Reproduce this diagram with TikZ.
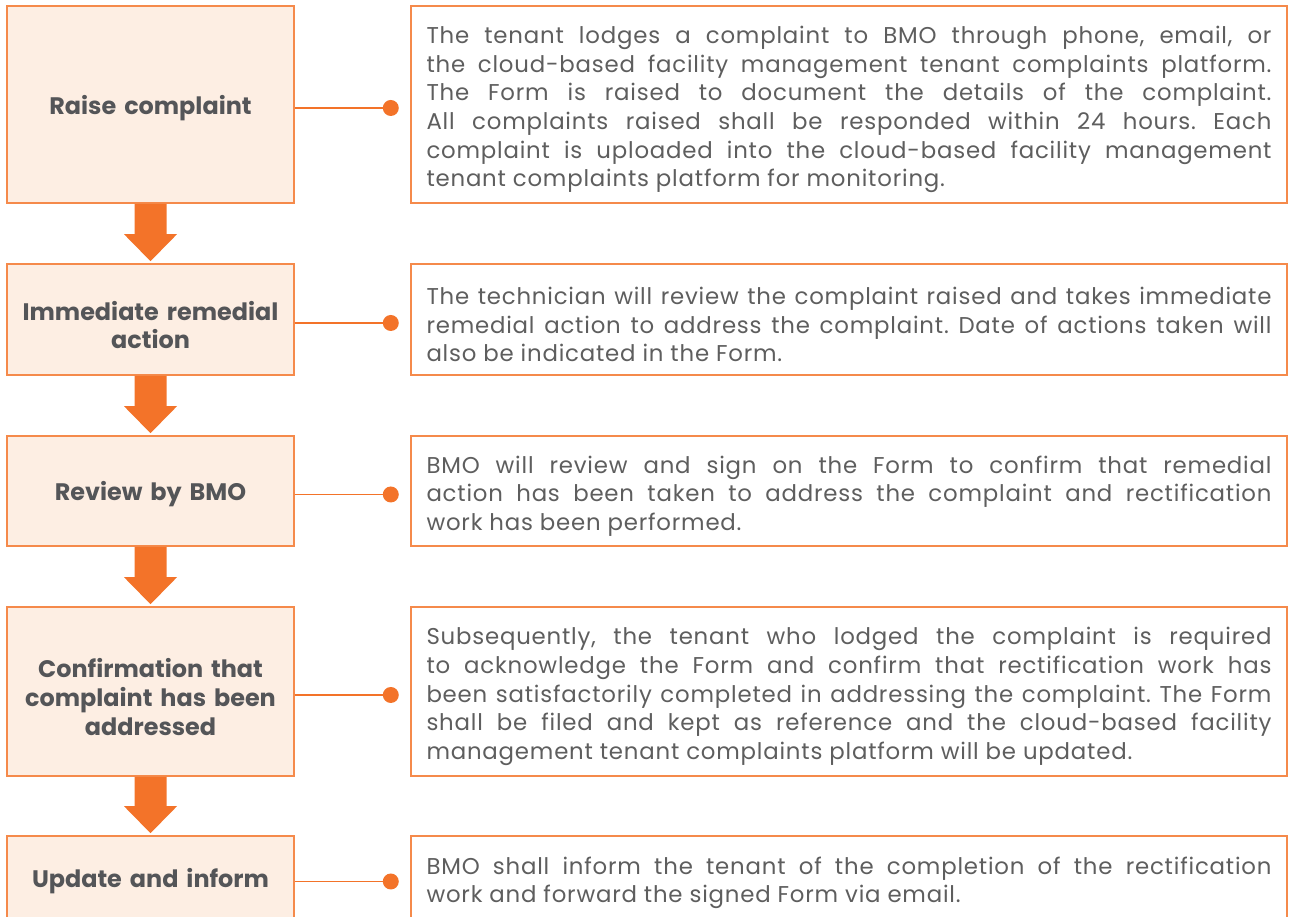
\documentclass[tikz,border=0pt]{standalone}
\usepackage{fontspec}
\setmainfont{Poppins}
\newfontfamily\bodyfont[LetterSpace=3.5]{Poppins}
\usepackage{xcolor}
\usepackage{tikz}
\usetikzlibrary{calc}
\definecolor{brandorange}{HTML}{F37329}
\definecolor{boxline}{HTML}{F58A4B}
\definecolor{boxfill}{HTML}{FDEEE3}
\definecolor{bodygray}{HTML}{5E5E5E}
\definecolor{labelgray}{HTML}{545558}
\hyphenpenalty=10000
\frenchspacing

\begin{document}
\begin{tikzpicture}[
  stage/.style={draw=boxline, fill=boxfill, line width=0.9pt, align=center, text width=5.3cm, inner xsep=0.22cm, inner ysep=0pt, text=labelgray, font=\fontsize{13.6}{16.3}\selectfont\bfseries, execute at end node={\endgraf\vspace*{-0.22cm}}},
  desc/.style={draw=boxline, fill=white, line width=0.9pt, align=justify, text width=16.9cm, inner xsep=0.31cm, inner ysep=0pt, text=bodygray, font=\bodyfont\fontsize{13}{16.3}\selectfont, execute at end node={\endgraf\vspace*{-0.2cm}}},
  link/.style={draw=brandorange, line width=0.8pt},
  dot/.style={fill=brandorange},
  flowarrow/.style={fill=brandorange}
]
\useasboundingbox (0,0) rectangle (25.78,18.34);
\node[stage, minimum height=3.94cm] (s1) at (3.01,16.25) {Raise complaint};
\node[stage, minimum height=2.22cm] (s2) at (3.01,11.95) {Immediate remedial\\action};
\node[stage, minimum height=2.20cm] (s3) at (3.01,8.52) {Review by BMO};
\node[stage, minimum height=3.38cm] (s4) at (3.01,4.51) {Confirmation that\\complaint has been\\addressed};
\node[stage, minimum height=1.68cm] (s5) at (3.01,0.78) {Update and inform};

\node[desc, minimum height=3.94cm] (d1) at (16.98,16.25) {The tenant lodges a complaint to BMO through phone, email, or\linebreak the cloud-based facility management tenant complaints platform.\linebreak The Form is raised to document the details of the complaint.\linebreak All complaints raised shall be responded within 24 hours. Each\linebreak complaint is uploaded into the cloud-based facility management\linebreak tenant complaints platform for monitoring.};
\node[desc, minimum height=2.22cm] (d2) at (16.98,11.95) {The technician will review the complaint raised and takes immediate\linebreak remedial action to address the complaint. Date of actions taken will\linebreak also be indicated in the Form.};
\node[desc, minimum height=2.20cm] (d3) at (16.98,8.52) {BMO will review and sign on the Form to confirm that remedial\linebreak action has been taken to address the complaint and rectification\linebreak work has been performed.};
\node[desc, minimum height=3.38cm] (d4) at (16.98,4.51) {Subsequently, the tenant who lodged the complaint is required\linebreak to acknowledge the Form and confirm that rectification work has\linebreak been satisfactorily completed in addressing the complaint. The Form\linebreak shall be filed and kept as reference and the cloud-based facility\linebreak management tenant complaints platform will be updated.};
\node[desc, minimum height=1.68cm] (d5) at (16.98,0.78) {BMO shall inform the tenant of the completion of the rectification\linebreak work and forward the signed Form via email.};

\foreach \i in {1,...,5} {
  \draw[link] ([yshift=-0.07cm]s\i.east) -- ++(1.92,0) coordinate (k\i);
  \fill[dot] (k\i) circle (0.16);
}
\foreach \a/\b in {s1/s2,s2/s3,s3/s4,s4/s5}
  \fill[flowarrow] ($(\a.south)+(-0.32,0)$) -- ($(\a.south)+(0.32,0)$) -- ($(\b.north)+(0.32,0.58)$) -- ($(\b.north)+(0.53,0.58)$) -- ($(\b.north)+(0,0.04)$) -- ($(\b.north)+(-0.53,0.58)$) -- ($(\b.north)+(-0.32,0.58)$) -- cycle;
\end{tikzpicture}
\end{document}
